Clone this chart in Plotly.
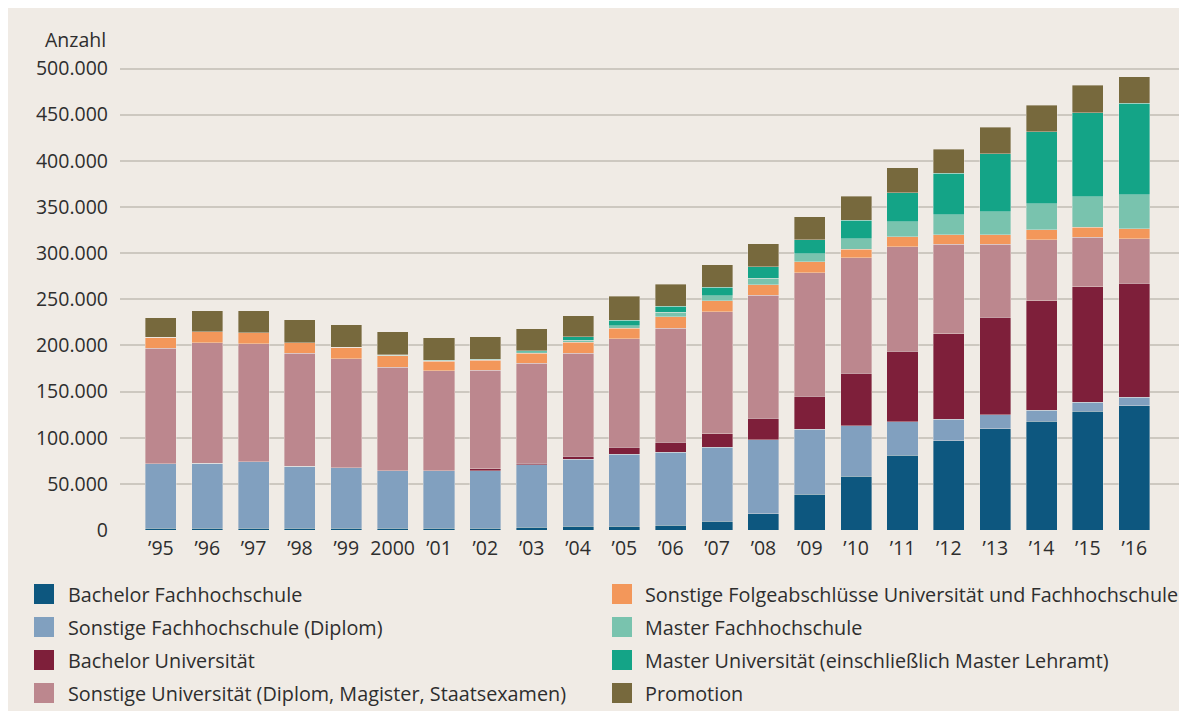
import plotly.graph_objects as go

# ---- data (Anzahl Abschlüsse) ----
years = ["\u201995", "\u201996", "\u201997", "\u201998", "\u201999", "2000", "\u201901", "\u201902",
         "\u201903", "\u201904", "\u201905", "\u201906", "\u201907", "\u201908", "\u201909", "\u201910",
         "\u201911", "\u201912", "\u201913", "\u201914", "\u201915", "\u201916"]

bachelor_fh = [2000, 2000, 2000, 2000, 2000, 2000, 2000, 2000, 2800, 4000, 4000, 5000,
               9500, 17500, 39000, 58500, 81000, 96500, 109500, 118000, 128500, 134500]
sonstige_fh = [70000, 70200, 71700, 67000, 65500, 62000, 62000, 62300, 68000, 72400, 78200, 79400,
               80400, 80100, 69900, 54200, 36400, 23500, 15200, 11900, 9700, 9500]
bachelor_uni = [0, 0, 0, 0, 0, 0, 0, 1800, 1300, 3600, 7300, 10900,
                14500, 23600, 35900, 57100, 76300, 92500, 105800, 118400, 125400, 123100]
sonstige_uni = [125000, 130800, 128200, 122500, 117800, 112600, 108300, 107200, 108800, 111700, 117700, 123500,
                131900, 132900, 134000, 125200, 113000, 97100, 79100, 66100, 53400, 48400]
sonstige_folge = [11700, 12000, 12000, 11500, 12700, 12400, 10600, 10500, 10800, 11500, 11300, 12000,
                  11900, 11600, 12000, 9400, 10800, 10400, 10400, 10800, 10800, 10800]
master_fh = [0, 0, 0, 0, 0, 300, 500, 600, 1200, 2600, 2900, 5000,
             5800, 7300, 8300, 10900, 16600, 21400, 25000, 28200, 33300, 36900]
master_uni = [0, 0, 0, 0, 0, 500, 500, 500, 1200, 3600, 5700, 6600,
              9100, 12300, 15200, 20200, 31100, 45200, 62800, 78300, 91000, 99300]
promotion = [21300, 22500, 23600, 25000, 24200, 25000, 24400, 24300, 24000, 22500, 26100, 23800,
             24300, 25000, 25000, 26000, 27100, 26000, 28600, 28600, 29600, 28500]

series_names = [
    "Bachelor Fachhochschule",
    "Sonstige Fachhochschule (Diplom)",
    "Bachelor Universität",
    "Sonstige Universität (Diplom, Magister, Staatsexamen)",
    "Sonstige Folgeabschlüsse Universität und Fachhochschule",
    "Master Fachhochschule",
    "Master Universität (einschließlich Master Lehramt)",
    "Promotion",
]
series_values = [bachelor_fh, sonstige_fh, bachelor_uni, sonstige_uni,
                 sonstige_folge, master_fh, master_uni, promotion]
series_colors = ["#0d577f", "#81a0bf", "#7e1f3a", "#bc878e",
                 "#f3975a", "#79c3ae", "#14a487", "#77693d"]

y_tickvals = [0, 50000, 100000, 150000, 200000, 250000, 300000, 350000, 400000, 450000, 500000]

# ---- layout geometry (figure pixels; page adds an 8px body margin) ----
OFF = 8
W, H = 1187 - 2 * OFF, 726 - 2 * OFF
L, R, T, B = 112, 0, 52, 188
PW, PH = W - L - R, H - T - B
BG = "#f0ebe5"
TXT = "#2e2e2e"
FONT = "Open Sans"


def px(x):  # screen x -> paper x
    return (x - OFF - L) / PW


def py(y):  # screen y -> paper y
    return (H - B - (y - OFF)) / PH


fig = go.Figure()
for name, vals, col in zip(series_names, series_values, series_colors):
    fig.add_trace(go.Bar(
        x=years, y=vals, name=name, showlegend=False,
        marker=dict(color=col, line=dict(color="rgba(240,235,229,0.55)", width=0.7)),
    ))

shapes = [dict(type="rect", xref="paper", yref="paper",
               x0=px(0), x1=px(1200), y0=py(740), y1=py(711),
               fillcolor="white", line=dict(width=0))]
annotations = [dict(text="Anzahl", xref="paper", yref="paper", x=px(108), y=py(40),
                    xanchor="right", yanchor="middle", showarrow=False,
                    font=dict(family=FONT, size=19.5, color=TXT))]

# manual two-column legend
col_x = [34, 612]
text_x = [66, 643]
row_y = [594, 627, 660, 693]
for i, (name, col) in enumerate(zip(series_names, series_colors)):
    c, r = divmod(i, 4)
    shapes.append(dict(type="rect", xref="paper", yref="paper",
                       x0=px(col_x[c]), x1=px(col_x[c] + 20),
                       y0=py(row_y[r] + 10), y1=py(row_y[r] - 10),
                       fillcolor=col, line=dict(width=0)))
    annotations.append(dict(text=name, xref="paper", yref="paper",
                            x=px(text_x[c]), y=py(row_y[r]), xanchor="left", yanchor="middle",
                            showarrow=False, font=dict(family=FONT, size=19.8, color=TXT)))

fig.update_layout(
    width=W, height=H, autosize=False,
    margin=dict(l=L, r=R, t=T, b=B, pad=0),
    paper_bgcolor=BG, plot_bgcolor=BG,
    barmode="stack", bargap=0.33,
    separators=",.",
    font=dict(family=FONT, size=19.5, color=TXT),
    shapes=shapes, annotations=annotations,
    showlegend=False,
    xaxis=dict(type="category", range=[-0.882, 21.965], showgrid=False, showline=False,
               zeroline=False, ticks="", automargin=False, ticklabelstandoff=4,
               tickfont=dict(family=FONT, size=19.5, color=TXT)),
    yaxis=dict(range=[0, PH / 0.923 * 1000], tickvals=y_tickvals, tickformat=",d",
               showgrid=True, gridcolor="#cdc8c0", gridwidth=1.6, zeroline=False,
               showline=False, ticks="", automargin=False, ticklabelstandoff=11,
               tickfont=dict(family=FONT, size=19.5, color=TXT)),
)

fig.write_html("out.html")
